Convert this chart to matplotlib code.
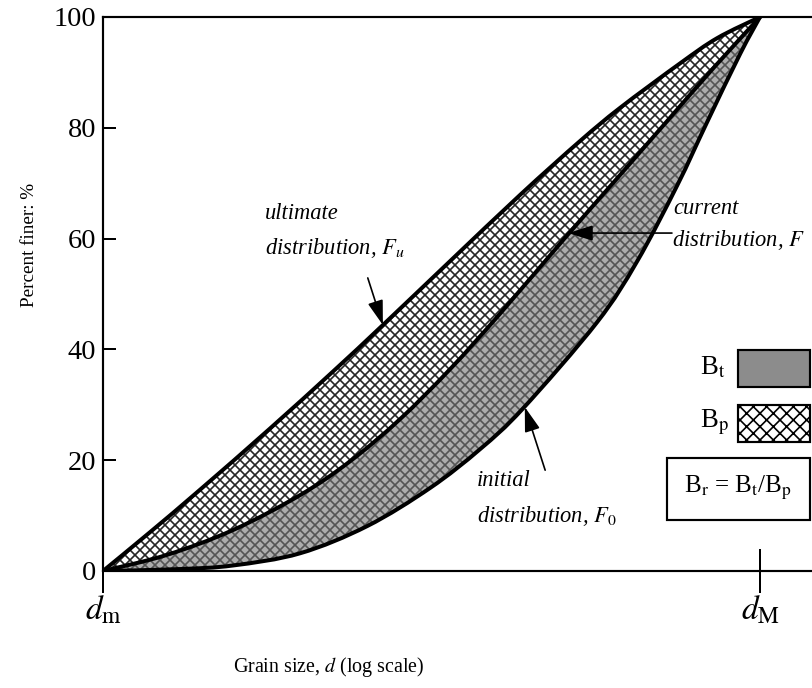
import matplotlib
matplotlib.use("Agg")
import matplotlib.pyplot as plt
from matplotlib.patches import Rectangle, PathPatch
from matplotlib.path import Path
import numpy as np

plt.rcParams["font.family"] = ["Liberation Serif", "DejaVu Serif"]
plt.rcParams["mathtext.fontset"] = "stix"
plt.rcParams["hatch.linewidth"] = 1.0

# grain size on a normalised log scale: 0 = d_m, 1 = d_M
size_ultimate = [0.0, 0.0715, 0.148, 0.254, 0.350, 0.426, 0.528, 0.635, 0.726, 0.787, 0.878, 0.935, 1.0]
finer_ultimate = [0.0, 7.0, 14.7, 25.7, 36.0, 44.4, 55.9, 67.9, 77.6, 83.6, 91.6, 96.2, 100.0]

size_current = [0.0, 0.097, 0.198, 0.300, 0.376, 0.452, 0.528, 0.604, 0.703, 0.782, 0.860, 0.930, 1.0]
finer_current = [0.0, 2.9, 7.4, 13.7, 19.8, 27.4, 36.4, 46.4, 60.1, 70.8, 81.4, 90.9, 100.0]

size_initial = [0.0, 0.117, 0.198, 0.300, 0.402, 0.498, 0.574, 0.639, 0.752, 0.813, 0.874, 0.919, 0.970, 1.0]
finer_initial = [0.0, 0.35, 1.0, 3.2, 8.1, 15.0, 22.0, 29.3, 44.9, 55.9, 69.6, 80.9, 93.4, 100.0]

y_ticks = [0, 20, 40, 60, 80, 100]
x_ticks = [0, 1]
x_ticklabels = [r"$d_{\rm m}$", r"$d_{\rm M}$"]

W, H = 812, 688


def fx(px):
    return px / W


def fy(py):
    return 1 - py / H


def curve(xs, ys):
    # bezier path through the read points (catmull-rom handles)
    p = np.column_stack([xs, ys])
    verts, codes = [p[0]], [Path.MOVETO]
    for i in range(len(p) - 1):
        p0 = p[i - 1] if i > 0 else p[i]
        p3 = p[i + 2] if i + 2 < len(p) else p[i + 1]
        verts += [p[i] + (p[i + 1] - p0) / 6, p[i + 1] - (p3 - p[i]) / 6, p[i + 1]]
        codes += [Path.CURVE4] * 3
    return verts, codes


def band(top, bottom):
    v1, c1 = curve(*top)
    v2, c2 = curve(*bottom)
    v2 = v2[::-1]
    verts = v1 + v2 + [v1[0]]
    codes = c1 + [Path.LINETO] + [Path.CURVE4] * (len(v2) - 1) + [Path.CLOSEPOLY]
    return Path(verts, codes)


fig = plt.figure(figsize=(W / 120, H / 120), dpi=120)
ax = fig.add_axes([fx(103), fy(571), 709 / W, 554 / H])

ultimate = (size_ultimate, finer_ultimate)
current = (size_current, finer_current)
initial = (size_initial, finer_initial)

# B_p band (ultimate - current) and B_t band (current - initial)
ax.add_patch(PathPatch(band(ultimate, current), facecolor="white", edgecolor="#262626",
                       hatch="xxxx", linewidth=0))
ax.add_patch(PathPatch(band(current, initial), facecolor="#adadad", edgecolor="#555555",
                       hatch="xxxx", linewidth=0))

for xs, ys in [ultimate, current, initial]:
    v, c = curve(xs, ys)
    ax.add_patch(PathPatch(Path(v, c), facecolor="none", edgecolor="black", lw=2.4,
                           joinstyle="round", capstyle="round"))

ax.set_xlim(0, 709 / 657)
ax.set_ylim(0, 100)
ax.spines["right"].set_visible(False)
for s in ["left", "bottom", "top"]:
    ax.spines[s].set_linewidth(1.3)

ax.set_yticks(y_ticks)
ax.tick_params(axis="y", direction="in", length=8, width=1.2, labelsize=17, pad=4)
ax.set_xticks(x_ticks)
ax.set_xticklabels(x_ticklabels)
ax.tick_params(axis="x", direction="inout", length=26, width=1.2, labelsize=20, pad=1)

fig.text(fx(329), fy(667), r"Grain size, $d$ (log scale)", ha="center", va="center", fontsize=12)
fig.text(fx(30), fy(245), "Percent finer: %", rotation=90, ha="center", va="center", fontsize=11.5)

# curve labels with arrows
arrow = dict(arrowstyle="-|>,head_length=0.7,head_width=0.22", color="black", lw=1.0,
             mutation_scale=18, shrinkA=0, shrinkB=0)
ax.annotate("", xy=(0.426, 44.4), xytext=(0.403, 52.9), arrowprops=arrow)
ax.annotate("", xy=(0.708, 61.0), xytext=(0.866, 61.0), arrowprops=arrow)
ax.annotate("", xy=(0.642, 29.6), xytext=(0.673, 18.2), arrowprops=arrow)

lab = dict(fontsize=13.5, style="italic", ha="left", va="center")
ax.text(0.247, 64.6, "ultimate", **lab)
ax.text(0.247, 58.3, r"distribution, $F_u$", **lab)
ax.text(0.868, 65.5, "current", **lab)
ax.text(0.866, 59.7, r"distribution, $F$", **lab)
ax.text(0.569, 16.4, "initial", **lab)
ax.text(0.569, 9.9, r"distribution, $F_0$", **lab)

# key
fig.add_artist(Rectangle((fx(738), fy(387)), 72 / W, 37 / H, transform=fig.transFigure,
                         facecolor="#8c8c8c", edgecolor="black", lw=1.3))
fig.add_artist(Rectangle((fx(738), fy(442)), 72 / W, 37 / H, transform=fig.transFigure,
                         facecolor="white", edgecolor="black", hatch="xxx", lw=1.3))
fig.add_artist(Rectangle((fx(667), fy(520)), 143 / W, 62 / H, transform=fig.transFigure,
                         facecolor="white", edgecolor="black", lw=1.3))
fig.text(fx(700), fy(368), r"B$_{\rm t}$", fontsize=16, ha="left", va="center")
fig.text(fx(700), fy(422), r"B$_{\rm p}$", fontsize=16, ha="left", va="center")
fig.text(fx(738), fy(488), r"B$_{\rm r}$ = B$_{\rm t}$/B$_{\rm p}$", fontsize=15, ha="center", va="center")

fig.savefig("out.png", dpi=120)
